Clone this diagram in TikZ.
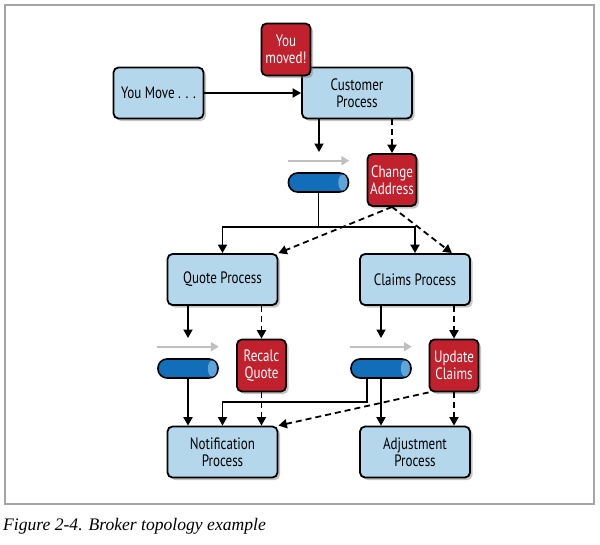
\documentclass[tikz,border=0pt]{standalone}
\usepackage{fontspec}
\setmainfont{Liberation Serif}
\newfontfamily\boxfont{PT Sans}[FakeStretch=0.79]
\usetikzlibrary{arrows.meta,shadows,calc}
\definecolor{boxblue}{RGB}{180,215,236}
\definecolor{boxred}{RGB}{193,33,45}
\definecolor{qblue}{RGB}{18,110,185}
\definecolor{qcap}{RGB}{95,165,216}
\definecolor{arrgray}{RGB}{192,192,192}
\definecolor{framegray}{RGB}{165,165,165}
\tikzset{
  basebox/.style={draw=black, line width=1.8pt, rounded corners=5pt, inner sep=0pt, align=center,
    font=\boxfont\fontsize{16.5}{17}\selectfont,
    drop shadow={opacity=0.45, shadow xshift=2.5pt, shadow yshift=-2.5pt}},
  bluebox/.style={basebox, fill=boxblue, minimum width=110pt, minimum height=51pt},
  redbox/.style={basebox, fill=boxred, text=white, minimum width=49pt, minimum height=52pt},
  queue/.style={draw=black, line width=1.6pt, fill=qblue, rounded corners=9pt, minimum width=60pt, minimum height=19pt, inner sep=0pt},
  arr/.style={line width=1.8pt, -{Triangle[length=8.5pt,width=9pt]}},
  plain/.style={line width=1.8pt},
  darr/.style={arr, dash pattern=on 6pt off 4pt},
  grayarr/.style={draw=arrgray, line width=2pt, -{Triangle[length=8pt,width=9pt]}}
}
\begin{document}
\begin{tikzpicture}[x=1pt,y=-1pt]
\useasboundingbox (0,0) rectangle (600,544);
\fill[white] (0,0) rectangle (600,544);
\draw[framegray, line width=1.5pt] (5,5) rectangle (594,504);

% nodes
\node[bluebox, minimum width=90pt] (you) at (158.5,93) {You Move . . .};
\node[bluebox] (cust) at (357,93) {Customer\\Process};
\node[redbox] (moved) at (286,49.5) {You\\moved!};
\node[redbox] (ca) at (392,180) {Change\\Address};
\node[queue] (q1) at (318.5,182.5) {};
\node[bluebox] (quote) at (222.5,279.5) {Quote Process};
\node[bluebox] (claims) at (415,279.5) {Claims Process};
\node[redbox] (rq) at (261.5,365.5) {Recalc\\Quote};
\node[redbox] (uc) at (454,365.5) {Update\\Claims};
\node[queue] (q2) at (188,368.5) {};
\node[queue] (q3) at (381,368.5) {};
\node[bluebox] (notif) at (222.5,452) {Notification\\Process};
\node[bluebox] (adj) at (415,452) {Adjustment\\Process};

% queue end caps
\foreach \q in {q1,q2,q3}{
  \fill[qcap] ([xshift=-6.5pt]\q.east) ellipse (4.5pt and 8pt);
}
% gray direction arrows
\foreach \q in {q1,q2,q3}{
  \draw[grayarr] ([yshift=11.5pt]\q.north west) -- ([yshift=11.5pt]\q.north east);
}

% connectors
\coordinate (c1) at (319,152);
\coordinate (j1) at (318.5,227);
\coordinate (c2) at (188,338);
\coordinate (c3) at (381,338);
\coordinate (j2) at (367,402);

\draw[arr] (you) -- (cust);
\draw[arr] (cust.south -| c1) -- (c1);
\draw[darr] (cust.south -| ca.north) -- (ca.north);
\draw[plain] (q1.south) -- (j1);
\draw[arr] (j1) -| (quote.north);
\draw[arr] (j1) -| (claims.north);
\draw[darr] (ca.south) -- (quote.north east);
\draw[darr] (ca.south) -- ([xshift=-19pt]claims.north east);

\draw[arr] (quote.south -| c2) -- (c2);
\draw[darr] (quote.south -| rq.north) -- (rq.north);
\draw[arr] (claims.south -| c3) -- (c3);
\draw[darr] (claims.south -| uc.north) -- (uc.north);

\draw[arr] (q2.south) -- (notif.north -| q2.south);
\draw[darr] (rq.south) -- (notif.north -| rq.south);
\draw[arr] (q3.south -| j2) -- (j2) -| (notif.north);
\draw[arr] (q3.south) -- (adj.north -| q3.south);
\draw[darr] (uc.south) -- (adj.north -| uc.south);
\draw[darr] (uc.south west) -- (notif.north east);

% caption
\node[anchor=base west, inner sep=0pt, font=\itshape\fontsize{17.6}{19}\selectfont] (cap) at (3,530) {Figure 2-4. Broker topology example};
\end{tikzpicture}
\end{document}
